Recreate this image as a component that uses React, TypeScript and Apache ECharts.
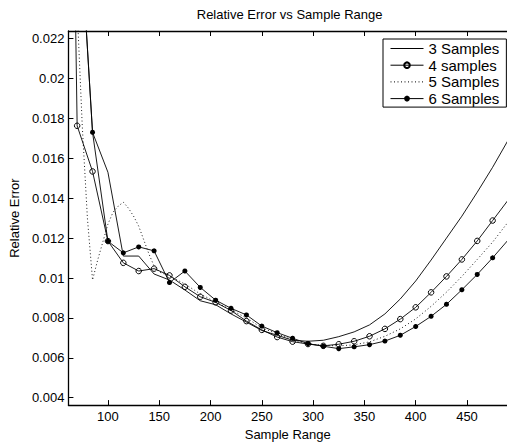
import React, { useEffect, useRef } from "react";
import * as echarts from "echarts";

const FONT = "'Liberation Sans', Arial, Helvetica, sans-serif";

// Sample range positions (shared by 3, 4 and 6 samples)
const sampleRange = [55, 70, 85, 100, 115, 130, 145, 160, 175, 190, 205, 220, 235, 250, 265, 280, 295, 310, 325, 340, 355, 370, 385, 400, 415, 430, 445, 460, 475, 490];

const samples3 = [null, 0.03, 0.0173, 0.0153, 0.0111, 0.0111, 0.0102, 0.0099, 0.0094, 0.00886, 0.00866, 0.0082, 0.00779, 0.00737, 0.00713, 0.00688, 0.00683, 0.00688, 0.00706, 0.0073, 0.00765, 0.0082, 0.00895, 0.00985, 0.0109, 0.012, 0.0131, 0.0143, 0.01555, 0.0169];

const samples4 = [0.069, 0.01763, 0.01534, 0.01185, 0.01076, 0.01035, 0.01047, 0.01013, 0.00956, 0.00906, 0.00878, 0.00837, 0.00784, 0.0074, 0.00704, 0.00681, 0.00669, 0.0066, 0.00668, 0.00683, 0.00708, 0.00745, 0.00794, 0.00853, 0.00928, 0.01008, 0.01093, 0.01186, 0.01288, 0.0139];

const samples6 = [null, 0.03, 0.0173, 0.01184, 0.01126, 0.01156, 0.01136, 0.00977, 0.01035, 0.00953, 0.00889, 0.00848, 0.00815, 0.00759, 0.00726, 0.00698, 0.00671, 0.00658, 0.00646, 0.00655, 0.00666, 0.00684, 0.00713, 0.00757, 0.00808, 0.00868, 0.00941, 0.01018, 0.01101, 0.0119];

// 5 samples is drawn with finer sampling at the low end
const sampleRange5 = [70, 75, 80, 85, 90, 95, 100, 105, 110, 115, 120, 125, 130, 135, 140, 145, 150, 160, 175, 190, 205, 220, 235, 250, 265, 280, 295, 310, 325, 340, 355, 370, 385, 400, 415, 430, 445, 460, 475, 490];
const samples5 = [0.0235, 0.0176, 0.013, 0.0099, 0.0109, 0.0118, 0.0127, 0.0133, 0.0136, 0.0138, 0.0135, 0.0131, 0.0126, 0.0119, 0.0112, 0.0106, 0.0103, 0.0101, 0.0097, 0.0092, 0.0088, 0.0084, 0.008, 0.0075, 0.0072, 0.0069, 0.0067, 0.00662, 0.0066, 0.00665, 0.0068, 0.00708, 0.00745, 0.00795, 0.00858, 0.00929, 0.01008, 0.01093, 0.0118, 0.0128];

const xTicks = [100, 150, 200, 250, 300, 350, 400, 450];
const yTicks = [0.004, 0.006, 0.008, 0.01, 0.012, 0.014, 0.016, 0.018, 0.02, 0.022];

const seriesNames = ["3 Samples", "4 samples", "5 Samples", "6 Samples"];

const ASTERISK = "path://M5,0L5,10M0,5L10,5M1.5,1.5L8.5,8.5M1.5,8.5L8.5,1.5M3,0.5L7,9.5M3,9.5L7,0.5M0.5,3L9.5,7M0.5,7L9.5,3";

function pairs(xs: number[], ys: (number | null)[]) {
  return xs.map((x, i) => [x, ys[i]]);
}

export default function App() {
  const ref = useRef<HTMLDivElement>(null);

  useEffect(() => {
    if (!ref.current) return;
    const chart = echarts.init(ref.current, null, { renderer: "svg" });
    const xMin = 61.5;
    const xMax = 489;
    const axisColor = "#000";
    const label = { color: "#000", fontSize: 13, fontFamily: FONT };
    const lw = 0.9;

    chart.setOption({
      animation: false,
      backgroundColor: "#fff",
      title: {
        text: "Relative Error vs Sample Range",
        left: 289.6,
        top: 8,
        padding: 0,
        textAlign: "center",
        textStyle: { fontSize: 13, fontWeight: "normal", color: "#000", fontFamily: FONT },
      },
      grid: { left: 67.3, top: 31, width: 444.7, height: 377.7, containLabel: false },
      legend: {
        orient: "vertical",
        left: 383,
        top: 39,
        padding: [2, 7, 1, 7],
        itemWidth: 33,
        itemHeight: 7,
        itemGap: 1.7,
        borderColor: "#000",
        borderWidth: 1,
        backgroundColor: "#fff",
        selectedMode: false,
        lineStyle: { width: 1 },
        textStyle: { fontSize: 15, lineHeight: 15, color: "#000", fontFamily: FONT },
        data: [
          { name: seriesNames[0], itemStyle: { opacity: 0 } },
          { name: seriesNames[1] },
          { name: seriesNames[2], itemStyle: { opacity: 0 } },
          { name: seriesNames[3] },
        ],
      },
      xAxis: [
        {
          type: "value",
          min: xMin,
          max: xMax,
          position: "bottom",
          axisLine: { show: true, onZero: false, lineStyle: { color: axisColor, width: 1.3 } },
          axisTick: { show: true, inside: true, length: 5, customValues: xTicks, lineStyle: { color: axisColor } },
          axisLabel: { ...label, customValues: xTicks, margin: 5 },
          splitLine: { show: false },
          name: "Sample Range",
          nameLocation: "middle",
          nameGap: 19,
          nameTextStyle: label,
        },
        {
          type: "value",
          min: xMin,
          max: xMax,
          position: "top",
          axisLine: { show: true, onZero: false, lineStyle: { color: axisColor, width: 1.3 } },
          axisTick: { show: true, inside: true, length: 5, customValues: xTicks, lineStyle: { color: axisColor } },
          axisLabel: { show: false },
          splitLine: { show: false },
        },
      ],
      yAxis: {
        type: "value",
        min: 0.00363,
        max: 0.02238,
        axisLine: { show: true, onZero: false, lineStyle: { color: axisColor, width: 1.3 } },
        axisTick: { show: true, inside: true, length: 5, customValues: yTicks, lineStyle: { color: axisColor } },
        axisLabel: {
          ...label,
          customValues: yTicks,
          margin: 4,
          formatter: (v: number) => String(+v.toFixed(3)),
        },
        splitLine: { show: false },
        name: "Relative Error",
        nameLocation: "middle",
        nameGap: 44,
        nameTextStyle: label,
      },
      series: [
        {
          name: seriesNames[0],
          type: "line",
          data: pairs(sampleRange, samples3),
          symbol: "none",
          lineStyle: { color: "#000", width: lw },
          itemStyle: { color: "#000" },
          clip: true,
        },
        {
          name: seriesNames[1],
          type: "line",
          data: pairs(sampleRange, samples4),
          symbol: "circle",
          symbolSize: 5.5,
          lineStyle: { color: "#000", width: lw },
          itemStyle: { color: "rgba(0,0,0,0)", borderColor: "#000", borderWidth: 1 },
          clip: true,
        },
        {
          name: seriesNames[2],
          type: "line",
          data: pairs(sampleRange5, samples5),
          symbol: "none",
          lineStyle: { color: "#000", width: lw, type: [1, 2.5] },
          itemStyle: { color: "#000" },
          clip: true,
        },
        {
          name: seriesNames[3],
          type: "line",
          data: pairs(sampleRange, samples6),
          symbol: ASTERISK,
          symbolSize: 5,
          lineStyle: { color: "#000", width: lw },
          itemStyle: { color: "#000", borderColor: "#000", borderWidth: 1.2 },
          clip: true,
        },
      ],
    });

    return () => chart.dispose();
  }, []);

  return (
    <div
      ref={ref}
      style={{ position: "fixed", left: 0, top: 0, width: 507, height: 446, background: "#fff" }}
    />
  );
}
